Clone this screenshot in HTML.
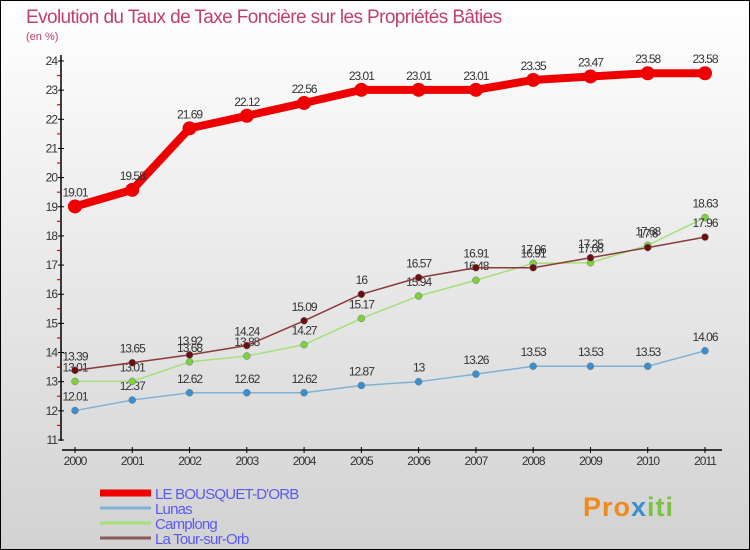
<!DOCTYPE html>
<html><head><meta charset="utf-8"><style>
html,body{margin:0;padding:0}
body{width:750px;height:550px;overflow:hidden;font-family:"Liberation Sans",sans-serif}
svg{display:block}
</style></head><body>
<svg id="chart" width="750" height="550" xmlns="http://www.w3.org/2000/svg">
<defs><linearGradient id="bg" x1="0" y1="0" x2="0" y2="1"><stop offset="0" stop-color="#ffffff"/><stop offset="1" stop-color="#d2d2d2"/></linearGradient></defs>
<rect x="0.5" y="0.5" width="749" height="549" fill="url(#bg)" stroke="#000"/>
<text x="26" y="23" font-size="19" fill="#c0406a" letter-spacing="-0.6">Evolution du Taux de Taxe Foncière sur les Propriétés Bâties</text>
<text x="26" y="40" font-size="11" fill="#c0406a">(en %)</text>
<g id="axes"></g>
<g id="series"></g>
<g id="legend"></g>
<text x="583" y="516" font-size="27" font-weight="bold" fill="#f08a1c" letter-spacing="1">Pro<tspan fill="#3a8fd0">x</tspan><tspan fill="#7cc242">iti</tspan></text>
</svg>
<script>
const years=["2000","2001","2002","2003","2004","2005","2006","2007","2008","2009","2010","2011"];
const yTicks=[11,12,13,14,15,16,17,18,19,20,21,22,23,24];
const bousquet=[19.01,19.58,21.69,22.12,22.56,23.01,23.01,23.01,23.35,23.47,23.58,23.58];
const lunas=[12.01,12.37,12.62,12.62,12.62,12.87,13,13.26,13.53,13.53,13.53,14.06];
const camplong=[13.01,13.01,13.68,13.88,14.27,15.17,15.94,16.48,17.06,17.08,17.68,18.63];
const tour=[13.39,13.65,13.92,14.24,15.09,16,16.57,16.91,16.91,17.25,17.6,17.96];
const seriesNames=["LE BOUSQUET-D'ORB","Lunas","Camplong","La Tour-sur-Orb"];

const NS="http://www.w3.org/2000/svg";
function x(i){return 75+i*(630/11);}
function y(v){return 440-(v-11)*(379/13);}
function mk(tag,attrs,parent){const e=document.createElementNS(NS,tag);for(const k in attrs)e.setAttribute(k,attrs[k]);parent.appendChild(e);return e;}
const axes=document.getElementById('axes');
let e=mk('line',{x1:61,y1:55,x2:61,y2:441,stroke:'#000','stroke-width':1.5},axes);


e=mk('line',{x1:62,y1:450,x2:722,y2:450,stroke:'#000','stroke-width':1.5},axes);


yTicks.forEach((t,i)=>{
  mk('line',{x1:58,y1:y(t),x2:64,y2:y(t),stroke:'#000'},axes);
  if(i<yTicks.length-1)mk('line',{x1:57,y1:y(t+0.5),x2:60.2,y2:y(t+0.5),stroke:'#e00','stroke-width':1.2},axes);
  const l=mk('text',{x:57,y:y(t)+4,'font-size':12,'text-anchor':'end',fill:'#333','letter-spacing':-1},axes);
  l.textContent=t;
  
  
});
years.forEach((yr,i)=>{
  mk('line',{x1:x(i),y1:447,x2:x(i),y2:453,stroke:'#000'},axes);
  const l=mk('text',{x:x(i),y:465,'font-size':12,'text-anchor':'middle',fill:'#333','letter-spacing':-1},axes);
  l.textContent=yr;
  
  
});
const sg=document.getElementById('series');
const defs=[
 {d:lunas,c:'#7fb2d6',dot:'#3a8fd0',w:1.5,r:3.5,n:'lunas'},
 {d:camplong,c:'#a5e07a',dot:'#7cd23c',w:1.5,r:3.5,n:'camplong'},
 {d:tour,c:'#8b3a3a',dot:'#6b1010',w:1.5,r:3.5,n:'la-tour-sur-orb'},
 {d:bousquet,c:'#ee0000',dot:'#ee0000',w:8,r:7,n:'le-bousquet-dorb'}];
defs.forEach(s=>{
  const g=mk('g',{},sg);
  
  
  const p=mk('polyline',{points:s.d.map((v,i)=>x(i)+','+y(v)).join(' '),fill:'none',stroke:s.c,'stroke-width':s.w,'stroke-linejoin':'round'},g);
  
  
  s.d.forEach((v,i)=>{
    const c=mk('circle',{cx:x(i),cy:y(v),r:s.r,fill:s.dot,stroke:s.w>2?'none':'#777','stroke-width':0.5},g);
    
    
    const t=mk('text',{x:x(i),y:y(v)-10,'font-size':12,'text-anchor':'middle',fill:'#333','letter-spacing':-1},g);
    t.textContent=v;
    
    
  });
});
const lg=document.getElementById('legend');
const lcol=['#ee0000','#7fb2d6','#a5e07a','#8b5a5a'];
const lw=[7,3,3,3];
seriesNames.forEach((n,i)=>{
  const yy=493+i*15;
  const g=mk('g',{},lg);
  
  
  mk('line',{x1:100,y1:yy,x2:151,y2:yy,stroke:lcol[i],'stroke-width':lw[i]},g);
  const t=mk('text',{x:155,y:yy+6,'font-size':15,fill:'#5a5af0','letter-spacing':-0.8},g);
  t.textContent=n;
});
</script>
</body></html>
